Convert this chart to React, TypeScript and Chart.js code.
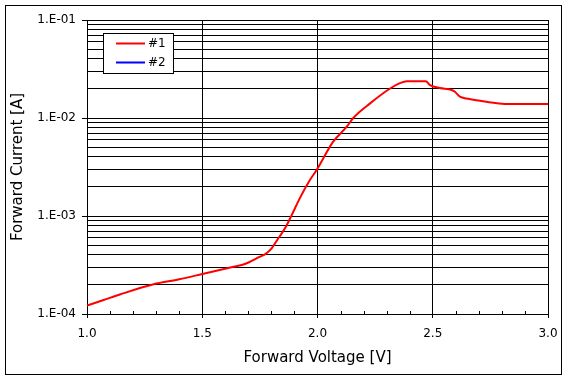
import React, { useEffect, useRef } from 'react';
import { Chart, registerables } from 'chart.js';

Chart.register(...registerables);

// ---- data ----
const VOLTAGE = [
  1.0, 1.072, 1.145, 1.289, 1.4, 1.5, 1.636, 1.685, 1.751, 1.772, 1.801, 1.83, 1.859,
  1.888, 1.924, 1.967, 1.996, 2.068, 2.127, 2.155, 2.228, 2.315, 2.36, 2.387, 2.47, 2.488,
  2.531, 2.582, 2.596, 2.618, 2.647, 2.705, 2.763, 2.821, 3.0,
];
const CURRENT_1 = [
  1.22e-4, 1.39e-4, 1.59e-4, 2.01e-4, 2.26e-4, 2.56e-4, 3.04e-4, 3.24e-4, 3.85e-4, 4.06e-4,
  4.68e-4, 5.92e-4, 7.48e-4, 1.02e-3, 1.53e-3, 2.33e-3, 2.94e-3, 5.73e-3, 8.15e-3, 1.0e-2,
  1.41e-2, 2.0e-2, 2.28e-2, 2.37e-2, 2.37e-2, 2.17e-2, 2.02e-2, 1.93e-2, 1.85e-2, 1.65e-2,
  1.58e-2, 1.5e-2, 1.43e-2, 1.39e-2, 1.39e-2,
];
const CURRENT_2: number[] = [];
const SERIES_LABELS = ['#1', '#2'];
const SERIES_COLORS = ['#ff0000', '#0000ff'];
const X_MAJOR_TICKS = [1.0, 1.5, 2.0, 2.5, 3.0];
const X_MINOR_STEP = 0.1;
const Y_DECADES = [1e-4, 1e-3, 1e-2, 1e-1];
const Y_LABELS = ['1.E-04', '1.E-03', '1.E-02', '1.E-01'];
const X_TITLE = 'Forward Voltage [V]';
const Y_TITLE = 'Forward Current [A]';

const FONT = '"DejaVu Sans", sans-serif';

const majorIndex = (v: number) => Y_DECADES.findIndex((d) => Math.abs(v / d - 1) < 1e-6);

const decorPlugin = {
  id: 'decor',
  afterDraw(chart: any) {
    const { ctx, chartArea, scales } = chart;
    ctx.save();
    ctx.strokeStyle = '#000';
    ctx.lineWidth = 1;
    // outer frame
    ctx.strokeRect(5.5, 5.5, 556, 369);
    // inner minor ticks on x axis
    const xs = scales.x;
    ctx.beginPath();
    const n = Math.round((xs.max - xs.min) / X_MINOR_STEP);
    for (let i = 1; i < n; i++) {
      const v = xs.min + i * X_MINOR_STEP;
      if (X_MAJOR_TICKS.some((t) => Math.abs(t - v) < 1e-6)) continue;
      const px = Math.round(xs.getPixelForValue(v)) + 0.5;
      ctx.moveTo(px, chartArea.bottom);
      ctx.lineTo(px, chartArea.bottom - 3);
    }
    ctx.stroke();
    // legend box
    const bx = 103.5, by = 33.5, bw = 70, bh = 40;
    ctx.fillStyle = '#fff';
    ctx.fillRect(bx, by, bw, bh);
    ctx.strokeRect(bx, by, bw, bh);
    chart.data.datasets.forEach((ds: any, i: number) => {
      const y = 43.5 + i * 19;
      ctx.strokeStyle = ds.borderColor;
      ctx.lineWidth = 2;
      ctx.beginPath();
      ctx.moveTo(116, y);
      ctx.lineTo(145, y);
      ctx.stroke();
      ctx.fillStyle = '#000';
      ctx.font = `12px ${FONT}`;
      ctx.textBaseline = 'middle';
      ctx.textAlign = 'left';
      ctx.fillText(ds.label, 148, y);
    });
    ctx.restore();
  },
};

export default function App() {
  const ref = useRef<HTMLCanvasElement | null>(null);

  useEffect(() => {
    if (!ref.current) return;
    Chart.defaults.font.family = FONT;
    Chart.defaults.color = '#000';
    const series = [CURRENT_1, CURRENT_2];
    const chart = new Chart(ref.current, {
      type: 'line',
      data: {
        datasets: series.map((vals, i) => ({
          label: SERIES_LABELS[i],
          data: vals.map((y, j) => ({ x: VOLTAGE[j], y })),
          borderColor: SERIES_COLORS[i],
          backgroundColor: SERIES_COLORS[i],
          borderWidth: 2,
          pointRadius: 0,
          cubicInterpolationMode: 'monotone',
          fill: false,
        })),
      },
      options: {
        responsive: false,
        animation: false,
        devicePixelRatio: 1,
        layout: { padding: { top: 20, right: 20, left: 0, bottom: 0 } },
        plugins: {
          legend: { display: false },
          tooltip: { enabled: false },
        },
        scales: {
          x: {
            type: 'linear',
            min: 1,
            max: 3,
            afterBuildTicks: (s: any) => {
              s.ticks = X_MAJOR_TICKS.map((v) => ({ value: v }));
            },
            afterFit: (s: any) => {
              s.height = 66;
            },
            grid: { color: '#000', lineWidth: 1, tickLength: 4, tickColor: '#000' },
            border: { display: true, color: '#000', width: 1 },
            ticks: {
              autoSkip: false,
              maxRotation: 0,
              padding: 9,
              font: { size: 12, family: FONT },
              color: '#000',
              callback: (v: any) => Number(v).toFixed(1),
            },
            title: {
              display: true,
              text: X_TITLE,
              font: { size: 15, family: FONT },
              color: '#000',
              padding: { top: 0, bottom: 13 },
            },
          },
          y: {
            type: 'logarithmic',
            min: Y_DECADES[0],
            max: Y_DECADES[Y_DECADES.length - 1],
            afterBuildTicks: (s: any) => {
              const t: any[] = [];
              for (let d = 0; d < Y_DECADES.length; d++) {
                const base = Y_DECADES[d];
                if (d === Y_DECADES.length - 1) {
                  t.push({ value: base });
                } else {
                  for (let k = 1; k <= 9; k++) t.push({ value: base * k });
                }
              }
              s.ticks = t;
            },
            afterFit: (s: any) => {
              s.width = 87;
            },
            grid: {
              color: '#000',
              lineWidth: 1,
              tickLength: 5,
              tickColor: (c: any) => (c.tick && majorIndex(c.tick.value) >= 0 ? '#000' : 'rgba(0,0,0,0)'),
            },
            border: { display: true, color: '#000', width: 1 },
            ticks: {
              autoSkip: false,
              padding: 6,
              font: { size: 12, family: FONT },
              color: '#000',
              callback: (v: any) => {
                const i = majorIndex(Number(v));
                return i >= 0 ? Y_LABELS[i] : '';
              },
            },
            title: {
              display: true,
              text: Y_TITLE,
              font: { size: 15, family: FONT },
              color: '#000',
              padding: { top: 9, bottom: 0 },
            },
          },
        },
      },
      plugins: [decorPlugin],
    } as any);
    return () => chart.destroy();
  }, []);

  return (
    <div style={{ position: 'absolute', left: 0, top: 0, width: 568, height: 380, background: '#fff' }}>
      <canvas ref={ref} width={568} height={380} style={{ display: 'block' }} />
    </div>
  );
}
